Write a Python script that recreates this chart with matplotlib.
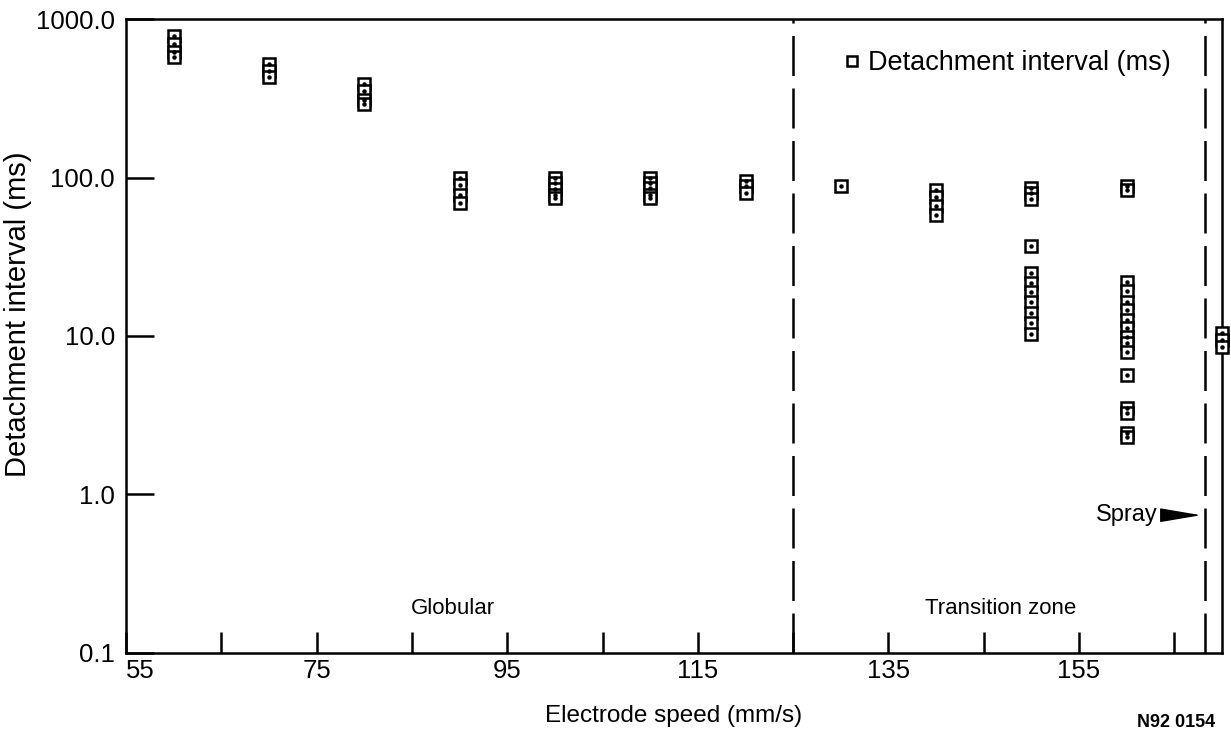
import matplotlib.pyplot as plt
import matplotlib.ticker as mticker
import numpy as np

plt.rcParams['font.family'] = ['Liberation Sans', 'DejaVu Sans']

# detachment interval readings (ms) per electrode speed (mm/s)
speeds = [60, 70, 80, 90, 100, 110, 120, 130, 140, 150, 160, 170]
intervals = [
    [780, 700, 620, 580],
    [520, 470, 430],
    [390, 350, 310, 290],
    [100, 90, 78, 69],
    [100, 92, 85, 78, 74],
    [100, 93, 86, 78, 74],
    [95, 88, 80],
    [88],
    [84, 75, 66, 58],
    [86, 80, 73, 37, 25, 21.5, 19, 16.5, 14, 12, 10.3],
    [88, 84, 22, 19.3, 16.5, 14.6, 12.6, 11.2, 9.8, 9.0, 7.9, 5.65, 3.5, 3.25, 2.45, 2.3],
    [10.5, 9.5, 8.5],
]

transition_start = 125
spray_start = 168.2
spray_arrow_y = 0.74

xs = []
ys = []
for s, vals in zip(speeds, intervals):
    for v in vals:
        xs.append(s)
        ys.append(v)

fig = plt.figure(figsize=(12.31, 7.46), dpi=100)
ax = fig.add_axes([0.1024, 0.1247, 0.8903, 0.8498])

ax.set_yscale('log')
ax.set_xlim(55, 170)
ax.set_ylim(0.1, 1000)

# hollow squares with a dot in the middle
ax.plot(xs, ys, linestyle='none', marker='s', markersize=9, markerfacecolor='white',
        markeredgecolor='black', markeredgewidth=1.8, zorder=3, clip_on=False,
        label='Detachment interval (ms)')
ax.plot(xs, ys, linestyle='none', marker='o', markersize=2.2, color='black', zorder=4, clip_on=False)

# regime boundaries
ax.axvline(transition_start, color='black', linewidth=1.8, dashes=(16, 5))
ax.axvline(spray_start, color='black', linewidth=1.8, dashes=(16, 5))

ax.text(89.3, 0.19, 'Globular', fontsize=16, ha='center', va='center')
ax.text(146.8, 0.19, 'Transition zone', fontsize=16, ha='center', va='center')
ax.text(163.2, spray_arrow_y, 'Spray', fontsize=17, ha='right', va='center')
ax.annotate('', xy=(167.8, spray_arrow_y), xytext=(163.9, spray_arrow_y),
            arrowprops=dict(arrowstyle='-|>,head_length=1.3,head_width=0.22',
                            color='black', lw=1, shrinkA=0, shrinkB=0),
            fontsize=20)

# legend inside the transition region
leg = ax.legend(loc='upper right', bbox_to_anchor=(0.963, 0.968), frameon=False,
                fontsize=19.5, handlelength=0.5, handletextpad=0.35, markerscale=0.75,
                borderaxespad=0)

for sp in ax.spines.values():
    sp.set_linewidth(1.8)

ax.yaxis.set_major_locator(mticker.LogLocator(base=10, numticks=10))
ax.yaxis.set_minor_locator(mticker.NullLocator())
ax.yaxis.set_major_formatter(mticker.FuncFormatter(lambda v, _: f'{v:.1f}'))
ax.tick_params(axis='y', which='major', direction='in', length=20, width=1.8,
               labelsize=18.5, pad=8)

ax.xaxis.set_major_locator(mticker.FixedLocator([55, 75, 95, 115, 135, 155]))
ax.xaxis.set_minor_locator(mticker.FixedLocator([65, 85, 105, 125, 145, 165]))
ax.xaxis.set_major_formatter(mticker.FuncFormatter(lambda v, _: f'{v:.0f}'))
ax.tick_params(axis='x', which='both', direction='in', length=15, width=1.8,
               labelsize=18.5, pad=4)
ax.get_xticklabels()[0].set_horizontalalignment('left')

ax.set_xlabel('Electrode speed (mm/s)', fontsize=17.5, labelpad=16)
ax.set_ylabel('Detachment interval (ms)', fontsize=21)
ax.yaxis.set_label_coords(-0.086, 0.535)

fig.text(0.955, 0.032, 'N92 0154', fontsize=13, fontweight='bold', ha='center', va='center')

fig.savefig('out.png', dpi=100)
